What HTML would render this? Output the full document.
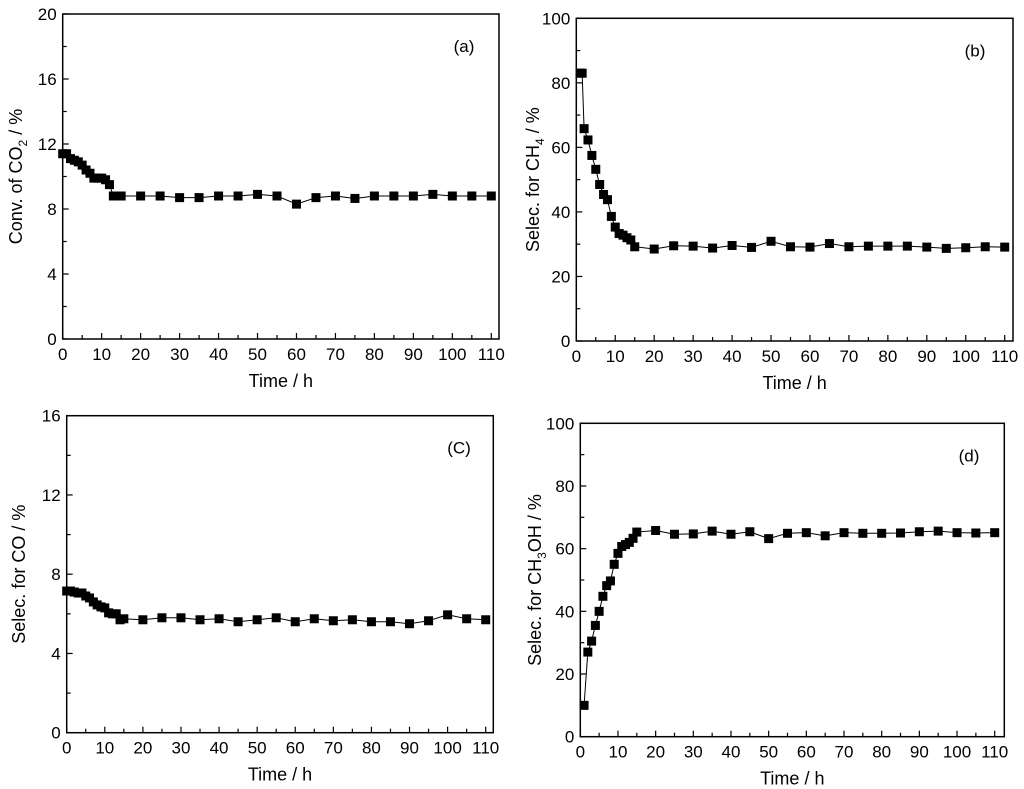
<!DOCTYPE html>
<html><head><meta charset="utf-8"><style>
body{margin:0;background:#fff;}
svg{display:block;font-family:"Liberation Sans",Arial,sans-serif;}
</style></head><body>
<svg id="fig" width="1024" height="789" viewBox="0 0 1024 789" xmlns="http://www.w3.org/2000/svg"></svg>
<script>
const timesA = [0,1,2,3,4,5,6,7,8,9,10,11,12,13,14,15,20,25,30,35,40,45,50,55,60,65,70,75,80,85,90,95,100,105,110];
const valuesA = [11.4,11.4,11.1,11.0,10.9,10.7,10.4,10.2,9.9,9.9,9.9,9.8,9.5,8.8,8.8,8.8,8.8,8.8,8.7,8.7,8.8,8.8,8.9,8.8,8.3,8.7,8.8,8.65,8.8,8.8,8.8,8.9,8.8,8.8,8.8];
const timesB = [1,1.5,2,3,4,5,6,7,8,9,10,11,12,13,14,15,20,25,30,35,40,45,50,55,60,65,70,75,80,85,90,95,100,105,110];
const valuesB = [83,83,65.8,62.3,57.5,53.2,48.5,45.4,43.8,38.6,35.3,33.3,32.8,32,31.3,29.2,28.5,29.5,29.4,28.8,29.6,29.0,30.9,29.2,29.1,30.2,29.2,29.4,29.4,29.4,29.1,28.7,28.9,29.2,29.1];
const timesC = [0,1,2,3,4,5,6,7,8,9,10,11,12,13,14,15,20,25,30,35,40,45,50,55,60,65,70,75,80,85,90,95,100,105,110];
const valuesC = [7.15,7.15,7.1,7.05,7.05,6.9,6.8,6.6,6.45,6.35,6.3,6.05,6.0,6.0,5.7,5.75,5.7,5.8,5.8,5.7,5.75,5.6,5.7,5.8,5.6,5.75,5.65,5.7,5.6,5.6,5.5,5.65,5.95,5.75,5.7];
const timesD = [1,2,3,4,5,6,7,8,9,10,11,12,13,14,15,20,25,30,35,40,45,50,55,60,65,70,75,80,85,90,95,100,105,110];
const valuesD = [10,27,30.5,35.5,40,44.8,48.2,49.7,55,58.5,60.7,61.3,62,63.3,65.3,65.8,64.6,64.7,65.6,64.6,65.4,63.2,64.9,65.1,64.1,65.1,64.9,64.9,65.0,65.4,65.6,65.1,65,65.1];
const xTicks = [0,10,20,30,40,50,60,70,80,90,100,110];
const yTicksA = [0,4,8,12,16,20];
const yTicksB = [0,20,40,60,80,100];
const yTicksC = [0,4,8,12,16];
const yTicksD = [0,20,40,60,80,100];

const NS="http://www.w3.org/2000/svg";
const svg=document.getElementById('fig');
function mk(tag,attrs,parent,text){const e=document.createElementNS(NS,tag);for(const k in attrs)e.setAttribute(k,attrs[k]);if(text!==undefined)e.textContent=text;(parent||svg).appendChild(e);return e;}

function panel(cfg){
  const g=mk('g',{});
  
  
  const {L,R,T,B,x110,ymax}=cfg;
  const xs=v=>L+(v/110)*(x110-L);
  const ys=v=>B-(v/ymax)*(B-T);
  const frame=mk('rect',{x:L,y:T,width:R-L,height:B-T,fill:'none',stroke:'#000','stroke-width':1.5},g);
  
  
  for(let v=0;v<=110;v+=5){
    const major=v%10===0;const len=major?6:4;
    mk('line',{x1:xs(v),x2:xs(v),y1:B,y2:B-len,stroke:'#000','stroke-width':1.2},g);
  }
  xTicks.forEach(v=>{
    const t=mk('text',{x:xs(v),y:B+21,'text-anchor':'middle','font-size':17},g,String(v));
    
    
  });
  const yt=cfg.yTicks;const step=yt[1]-yt[0];
  for(let v=0;v<=ymax+1e-9;v+=step/2){
    const major=Math.abs(v/step-Math.round(v/step))<1e-6;const len=major?6:4;
    mk('line',{x1:L,x2:L+len,y1:ys(v),y2:ys(v),stroke:'#000','stroke-width':1.2},g);
  }
  yt.forEach(v=>{
    const t=mk('text',{x:L-6,y:ys(v)+6,'text-anchor':'end','font-size':17},g,String(v));
    
    
  });
  const xt=mk('text',{x:(L+R)/2,y:B+48,'text-anchor':'middle','font-size':18},g,'Time / h');
  
  
  const cy=(T+B)/2;
  const yt2=mk('text',{x:cfg.ytx,y:cy,'text-anchor':'middle','font-size':18,transform:`rotate(-90 ${cfg.ytx} ${cy})`},g);
  
  
  cfg.ytitle.forEach(p=>{mk('tspan',p.sub?{'font-size':12,dy:5}:(p.after?{dy:-5}:{}),yt2,p.t);});
  const lab=mk('text',{x:cfg.labX,y:T+38,'text-anchor':'middle','font-size':17},g,cfg.label);
  
  
  const pts=cfg.t.map((t,i)=>xs(t)+','+ys(cfg.v[i])).join(' ');
  const line=mk('polyline',{points:pts,fill:'none',stroke:'#000','stroke-width':1},g);
  
  
  cfg.t.forEach((t,i)=>{
    const m=mk('rect',{x:xs(t)-4.5,y:ys(cfg.v[i])-4.5,width:9,height:9,fill:'#000'},g);
    
    
  });
}
panel({id:'a',L:62.7,R:499,T:14,B:339,x110:491.3,ymax:20,yTicks:yTicksA,t:timesA,v:valuesA,label:'(a)',labX:464,ytx:22,
  ytitle:[{t:'Conv. of CO'},{t:'2',sub:true},{t:' / %',after:true}]});
panel({id:'b',L:576.3,R:1013,T:18.3,B:341,x110:1004.7,ymax:100,yTicks:yTicksB,t:timesB,v:valuesB,label:'(b)',labX:975,ytx:539,
  ytitle:[{t:'Selec. for CH'},{t:'4',sub:true},{t:' / %',after:true}]});
panel({id:'c',L:66.7,R:493.3,T:415.7,B:732.7,x110:485.7,ymax:16,yTicks:yTicksC,t:timesC,v:valuesC,label:'(C)',labX:459,ytx:25,
  ytitle:[{t:'Selec. for CO / %'}]});
panel({id:'d',L:580.3,R:1004.3,T:423.3,B:736.7,x110:994.7,ymax:100,yTicks:yTicksD,t:timesD,v:valuesD,label:'(d)',labX:969,ytx:541,
  ytitle:[{t:'Selec. for CH'},{t:'3',sub:true},{t:'OH / %',after:true}]});
</script>
</body></html>
